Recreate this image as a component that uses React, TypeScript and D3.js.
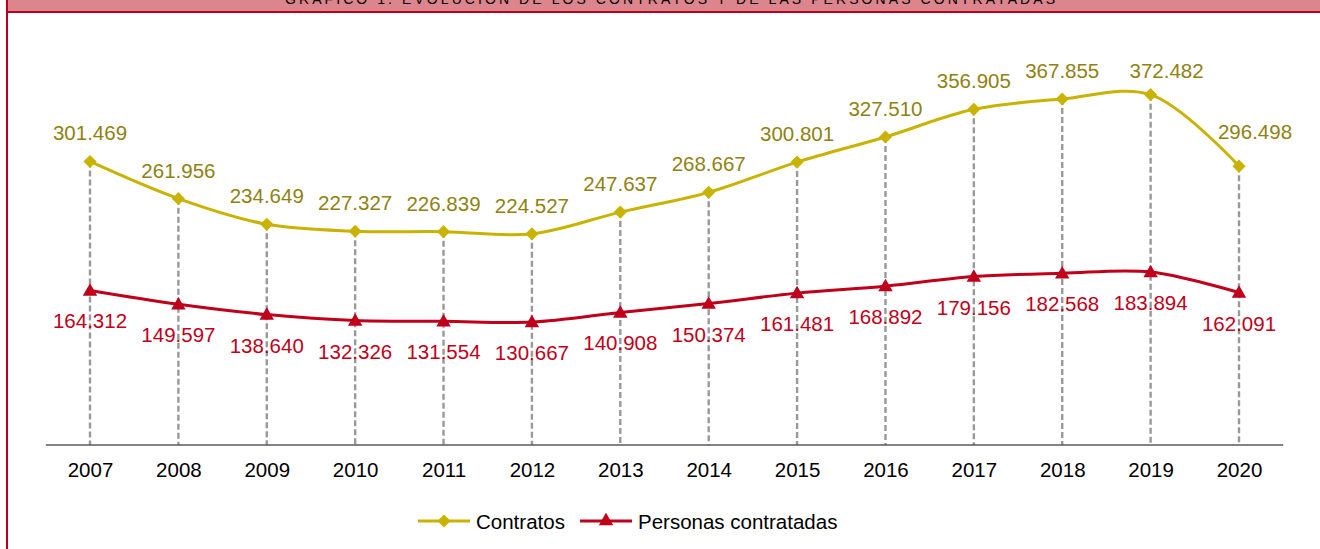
import React, { useEffect, useRef } from 'react'
import * as d3 from 'd3'

const years = ['2007', '2008', '2009', '2010', '2011', '2012', '2013', '2014', '2015', '2016', '2017', '2018', '2019', '2020']
const contratos = [301.469, 261.956, 234.649, 227.327, 226.839, 224.527, 247.637, 268.667, 300.801, 327.51, 356.905, 367.855, 372.482, 296.498]
const personas = [164.312, 149.597, 138.64, 132.326, 131.554, 130.667, 140.908, 150.374, 161.481, 168.892, 179.156, 182.568, 183.894, 162.091]
const seriesNames = ['Contratos', 'Personas contratadas']
const title = 'GRÁFICO 1. EVOLUCIÓN DE LOS CONTRATOS Y DE LAS PERSONAS CONTRATADAS'

const width = 1320
const height = 549
const gold = '#c9b300'
const goldText = '#8f8211'
const red = '#c0001a'

const fmt = (v: number) => v.toFixed(3)

export default function App() {
  const ref = useRef<SVGSVGElement>(null)

  useEffect(() => {
    const svg = d3.select(ref.current)
    svg.selectAll('*').remove()

    // frame + header (title is clipped at the top, as in the original)
    svg.append('rect').attr('x', 7).attr('y', 0).attr('width', width - 7).attr('height', 11).attr('fill', '#dc858d')
    svg.append('text').attr('x', 670).attr('y', 4).attr('text-anchor', 'middle')
      .attr('font-family', 'Liberation Sans, Arial, sans-serif').attr('font-size', 14)
      .attr('textLength', 770).attr('lengthAdjust', 'spacing')
      .text(title)
    svg.append('line').attr('x1', 6).attr('x2', width).attr('y1', 12).attr('y2', 12).attr('stroke', '#b80020').attr('stroke-width', 2)
    svg.append('line').attr('x1', 7).attr('x2', 7).attr('y1', 0).attr('y2', height).attr('stroke', '#b80020').attr('stroke-width', 2)

    const x = d3.scalePoint<string>().domain(years).range([90, 1239])
    const y = d3.scaleLinear().domain([0, 400]).range([445, 68.8])
    const font = 'Liberation Sans, Arial, sans-serif'

    // dashed drop lines
    svg.append('g').selectAll('line').data(years).join('line')
      .attr('x1', d => x(d)!).attr('x2', d => x(d)!)
      .attr('y1', (d, i) => y(contratos[i])).attr('y2', y(0))
      .attr('stroke', '#999').attr('stroke-width', 2.4).attr('stroke-dasharray', '6,3')

    // axis
    const axis = svg.append('g').attr('transform', `translate(0,${y(0)})`)
      .call(d3.axisBottom(x).tickSize(0).tickPadding(17))
    axis.select('.domain').attr('d', 'M45.8,0H1283.2').attr('stroke', '#595959').attr('stroke-width', 1.5)
    axis.selectAll('text').attr('font-family', font).attr('font-size', 20.5).attr('fill', '#000')

    const line = d3.line<number>()
      .x((d, i) => x(years[i])!)
      .y(d => y(d))
      .curve(d3.curveCatmullRom.alpha(0.5))

    svg.append('path').datum(contratos).attr('d', line).attr('fill', 'none').attr('stroke', gold).attr('stroke-width', 3)
    svg.append('path').datum(personas).attr('d', line).attr('fill', 'none').attr('stroke', red).attr('stroke-width', 3)

    const diamond = d3.symbol().type(d3.symbolDiamond2).size(110)
    const triangle = d3.symbol().type(d3.symbolTriangle).size(90)

    svg.append('g').selectAll('path').data(contratos).join('path')
      .attr('transform', (d, i) => `translate(${x(years[i])},${y(d)})`)
      .attr('d', diamond).attr('fill', gold)
    svg.append('g').selectAll('path').data(personas).join('path')
      .attr('transform', (d, i) => `translate(${x(years[i])},${y(d) + 1})`)
      .attr('d', triangle).attr('fill', red)

    // labels
    const shift: Record<string, [number, number]> = { '2019': [16, 4], '2020': [16, -6] }
    svg.append('g').selectAll('text').data(contratos).join('text')
      .attr('x', (d, i) => x(years[i])! + (shift[years[i]]?.[0] || 0))
      .attr('y', (d, i) => y(d) - 21 + (shift[years[i]]?.[1] || 0))
      .attr('text-anchor', 'middle').attr('font-family', font).attr('font-size', 20.5).attr('fill', goldText)
      .text(d => fmt(d))
    svg.append('g').selectAll('text').data(personas).join('text')
      .attr('x', (d, i) => x(years[i])!)
      .attr('y', d => y(d) + 38)
      .attr('text-anchor', 'middle').attr('font-family', font).attr('font-size', 20.5).attr('fill', red)
      .text(d => fmt(d))

    // legend
    const legend = svg.append('g').attr('transform', 'translate(0,521)')
    const items = [
      { name: seriesNames[0], color: gold, sym: diamond, x0: 418 },
      { name: seriesNames[1], color: red, sym: triangle, x0: 580 }
    ]
    for (const it of items) {
      legend.append('line').attr('x1', it.x0).attr('x2', it.x0 + 52).attr('y1', 0).attr('y2', 0).attr('stroke', it.color).attr('stroke-width', 3)
      legend.append('path').attr('transform', `translate(${it.x0 + 26},0)`).attr('d', it.sym).attr('fill', it.color)
      legend.append('text').attr('x', it.x0 + 58).attr('y', 7.5).attr('font-family', font).attr('font-size', 20.5).attr('fill', '#000').text(it.name)
    }
  })

  return (
    <svg ref={ref} width={width} height={height} viewBox={`0 0 ${width} ${height}`}
      style={{ position: 'absolute', left: 0, top: 0, background: '#fff' }} />
  )
}
